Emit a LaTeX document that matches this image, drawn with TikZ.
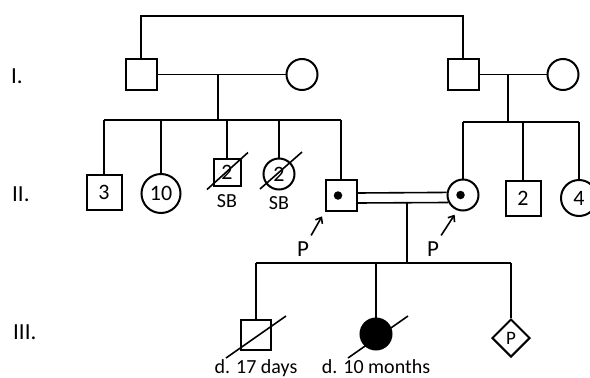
\documentclass[tikz,border=0pt]{standalone}
\usepackage{fontspec}
\setmainfont{Carlito}
\usetikzlibrary{arrows.meta,positioning,shapes.geometric}

\begin{document}
\begin{tikzpicture}[x=1pt, y=-1pt,
    male/.style={rectangle, draw, line width=2pt, minimum size=31pt, inner sep=0pt, font=\fontsize{22}{26}\selectfont},
    female/.style={circle, draw, line width=2pt, minimum size=31pt, inner sep=0pt, font=\fontsize{22}{26}\selectfont},
    unknown/.style={diamond, draw, line width=2pt, minimum width=38pt, minimum height=38pt, inner sep=0pt, font=\fontsize{19}{23}\selectfont},
    link/.style={line width=1.6pt},
    carrier/.style={circle, fill, minimum size=8.5pt, inner sep=0pt},
    gen/.style={anchor=west, inner sep=0pt, font=\fontsize{23}{27}\selectfont},
    lbl/.style={inner sep=0pt, font=\fontsize{22}{26}\selectfont},
    arr/.style={line width=1.6pt, -{Straight Barb[length=5pt, width=8pt]}}
]
    \useasboundingbox (0,0) rectangle (590,378);
    \clip (0,0) rectangle (590,378);

    % Generation labels
    \node[gen] (g1) at (11,76) {I.};
    \node[gen] (g2) at (12,194) {II.};
    \node[gen] (g3) at (13,332) {III.};

    % Generation I
    \node[male] (I1) at (141,74.5) {};
    \node[female] (I2) at (302,74.5) {};
    \node[male] (I3) at (463,74.5) {};
    \node[female] (I4) at (563,74.5) {};

    % Generation II
    \node[male, minimum size=35pt] (II1) at (104,192) {3};
    \node[female, minimum size=39pt] (II2) at (161,193.5) {10};
    \node[male, minimum size=27pt] (II3) at (227,172.5) {2};
    \node[female] (II4) at (279,174) {2};
    \node[male] (II5) at (341,195.5) {};
    \node[female] (II6) at (463,195) {};
    \node[male, minimum size=35pt] (II7) at (523,198.5) {2};
    \node[female, minimum size=36pt] (II8) at (579,198) {4};

    % Carrier dots
    \node[carrier] (dot5) at ([xshift=-3pt]II5.center) {};
    \node[carrier] (dot6) at ([xshift=-2.5pt]II6.center) {};

    % Generation III
    \node[male, minimum size=30pt] (III1) at (256,335) {};
    \node[female, fill] (III2) at (376,334) {};
    \node[unknown] (III3) at (511,338) {P};

    % Line linking the two families
    \coordinate (top) at (300,16);
    \draw[link] (I1.north) |- (top) -| (I3.north);

    % Left family
    \coordinate (m1) at (218,74.5);
    \coordinate (s1) at (218,120);
    \draw[link] (I1.east) -- (I2.west);
    \draw[link] (m1) -- (s1);
    \draw[link] (II1.north |- s1) -- (II5.north |- s1);
    \foreach \c in {II1,II2,II3,II4,II5}
        \draw[link] (\c.north |- s1) -- (\c.north);

    % Right family
    \coordinate (m2) at (508,74.5);
    \coordinate (s2) at (508,122);
    \draw[link] (I3.east) -- (I4.west);
    \draw[link] (m2) -- (s2);
    \draw[link] (II6.north |- s2) -- (II8.north |- s2);
    \foreach \c in {II6,II7,II8}
        \draw[link] (\c.north |- s2) -- (\c.north);

    % Consanguineous couple
    \draw[link] ([yshift=2.5pt]II5.east) -- (II6.171);
    \draw[link] ([yshift=-7.5pt]II5.east) -- (II6.207);
    \coordinate (m3) at (407,203);
    \coordinate (s3) at (407,263);
    \draw[link] (m3) -- (s3);
    \draw[link] (III1.north |- s3) -- (III3.north |- s3);
    \foreach \c in {III1,III2,III3}
        \draw[link] (\c.north |- s3) -- (\c.north);

    % Deceased
    \draw[link] (II3.center) ++(-20,17) -- ++(41,-37);
    \draw[link] (II4.center) ++(-19,15) -- ++(42,-37);
    \draw[link] (III1.center) ++(-30,23) -- ++(60,-42);
    \draw[link] (III2.center) ++(-28,24) -- ++(60,-42);

    \node[lbl, font=\fontsize{20}{24}\selectfont, below=7pt of II3] (sb1) {SB};
    \node[lbl, font=\fontsize{20}{24}\selectfont, below=6pt of II4] (sb2) {SB};
    \node[lbl, font=\fontsize{20}{24}\selectfont, below=8.5pt of III1] (d1) {d. 17 days};
    \node[lbl, font=\fontsize{20}{24}\selectfont, below=8.5pt of III2] (d2) {d. 10 months};

    % Probands
    \node[lbl, font=\fontsize{23}{27}\selectfont] (p1) at (303,249) {P};
    \node[lbl, font=\fontsize{23}{27}\selectfont] (p2) at (433,249) {P};
    \draw[arr, shorten >=5pt] ([shift={(2pt,6pt)}]p1.north east) -- (II5.south west);
    \draw[arr, shorten >=5pt] ([shift={(2pt,6pt)}]p2.north east) -- (II6.250);
\end{tikzpicture}
\end{document}
